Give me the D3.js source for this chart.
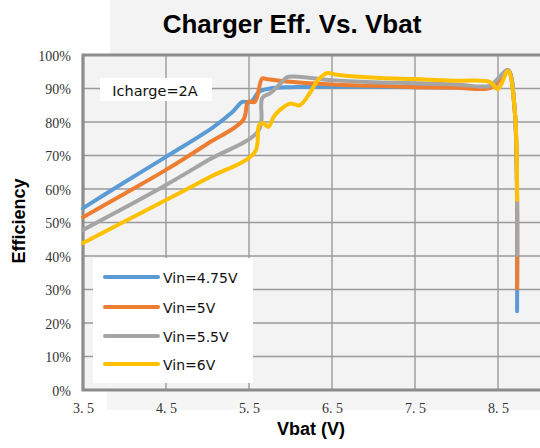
<!DOCTYPE html>
<html>
<head>
<meta charset="utf-8">
<script src="https://cdn.jsdelivr.net/npm/d3@7"></script>
<style>
html,body{margin:0;padding:0;background:#fff;}
svg{display:block;}
</style>
</head>
<body>
<svg id="chart" width="540" height="448"></svg>
<script>
// ---- Data ----
const seriesNames = ["Vin=4.75V", "Vin=5V", "Vin=5.5V", "Vin=6V"];
const seriesColors = ["#5B9BD5", "#ED7D31", "#A5A5A5", "#FFC000"];

const vbat475 = [3.5, 4.0, 4.5, 5.07, 5.3, 5.42, 5.52, 5.62, 5.75, 6.0, 6.5, 7.0, 7.5, 8.0, 8.4, 8.5, 8.62, 8.7, 8.73];
const eff475  = [54.3, 62.0, 69.6, 78.5, 83.0, 86.0, 86.0, 89.0, 90.0, 90.4, 90.5, 90.5, 90.4, 90.3, 90.3, 92.3, 95.5, 84.0, 23.5];

const vbat5 = [3.5, 4.0, 4.5, 5.0, 5.43, 5.49, 5.57, 5.66, 5.72, 6.0, 6.5, 7.0, 7.5, 8.0, 8.4, 8.5, 8.62, 8.7, 8.73];
const eff5  = [51.6, 58.6, 65.7, 73.5, 80.6, 86.0, 86.0, 93.0, 92.8, 92.0, 91.2, 90.8, 90.4, 90.2, 90.1, 92.0, 95.5, 84.0, 30.3];

const vbat55 = [3.5, 4.0, 4.5, 5.0, 5.62, 5.66, 5.76, 5.86, 5.96, 6.05, 6.5, 7.0, 7.5, 8.0, 8.4, 8.5, 8.62, 8.7, 8.73];
const eff55  = [47.8, 54.4, 61.2, 68.5, 77.6, 87.2, 88.7, 91.0, 93.4, 93.6, 92.5, 91.9, 91.6, 91.2, 90.8, 93.0, 95.5, 84.0, 40.3];

const vbat6 = [3.5, 4.0, 4.5, 5.0, 5.57, 5.62, 5.67, 5.73, 5.81, 5.93, 6.0, 6.11, 6.23, 6.33, 6.44, 6.56, 7.08, 7.5, 8.0, 8.4, 8.5, 8.62, 8.7, 8.73];
const eff6  = [43.9, 50.3, 56.7, 63.2, 71.0, 79.0, 79.7, 78.5, 82.0, 84.7, 85.5, 85.0, 88.5, 92.5, 94.6, 94.1, 93.1, 92.8, 92.3, 92.0, 89.8, 95.3, 84.0, 56.7];

const xTicks = [3.5, 4.5, 5.5, 6.5, 7.5, 8.5];
const xTickLabels = ["3. 5", "4. 5", "5. 5", "6. 5", "7. 5", "8. 5"];
const yTicks = [0, 10, 20, 30, 40, 50, 60, 70, 80, 90, 100];

const chartTitle = "Charger Eff. Vs. Vbat";
const xTitle = "Vbat (V)";
const yTitle = "Efficiency";
const noteText = "Icharge=2A";

const allX = [vbat475, vbat5, vbat55, vbat6];
const allY = [eff475, eff5, eff55, eff6];

// ---- Layout ----
const svg = d3.select("#chart");
const L = 83, T = 55, B = 390;
const x = d3.scaleLinear().domain([3.5, 9.0]).range([L, L + 83 * 5.5]);
const y = d3.scaleLinear().domain([0, 100]).range([B, T]);

// backgrounds
svg.append("rect").attr("x", 110).attr("y", 0).attr("width", 430).attr("height", T).attr("fill", "#f3f3f3");
svg.append("rect").attr("x", L).attr("y", T).attr("width", 540 - L).attr("height", B - T).attr("fill", "#f3f3f3");
svg.append("rect").attr("x", 107).attr("y", B).attr("width", 433).attr("height", 20).attr("fill", "#f5f5f5");

// gridlines
const grid = svg.append("g");
grid.selectAll("line.h").data(yTicks.filter(d => d > 0 && d < 100)).join("line")
  .attr("x1", L).attr("x2", 540).attr("y1", d => y(d)).attr("y2", d => y(d))
  .attr("stroke", "#9a9a9a").attr("stroke-width", 1.4);
grid.selectAll("line.v").data(xTicks.slice(1)).join("line")
  .attr("x1", d => x(d)).attr("x2", d => x(d)).attr("y1", T).attr("y2", B)
  .attr("stroke", "#9a9a9a").attr("stroke-width", 1.4);

// axis frame
svg.append("path")
  .attr("d", `M540,${T} L${L},${T} L${L},${B} L540,${B}`)
  .attr("fill", "none").attr("stroke", "#8c8c8c").attr("stroke-width", 3.2);

// axes labels via d3 axes
const xAxis = d3.axisBottom(x).tickValues(xTicks).tickSize(0).tickFormat((d, i) => xTickLabels[i]);
const gx = svg.append("g").attr("transform", `translate(0,${B})`).call(xAxis);
gx.select(".domain").remove();
gx.selectAll("text").attr("font-family", "Liberation Serif, DejaVu Serif, serif").attr("font-size", 14)
  .attr("fill", "#333").attr("dy", 0).attr("y", 23);

const yAxis = d3.axisLeft(y).tickValues(yTicks).tickSize(0).tickFormat(d => d + "%");
const gy = svg.append("g").attr("transform", `translate(${L - 12},0)`).call(yAxis);
gy.select(".domain").remove();
gy.selectAll("text").attr("font-family", "Liberation Serif, DejaVu Serif, serif").attr("font-size", 14)
  .attr("fill", "#333").attr("x", 0).attr("dy", "0.36em");

// note box
svg.append("rect").attr("x", 100).attr("y", 78).attr("width", 112).attr("height", 23).attr("fill", "#fff");
svg.append("text").attr("x", 155).attr("y", 96).attr("text-anchor", "middle")
  .attr("font-family", "DejaVu Sans, sans-serif").attr("font-size", 14.5).attr("fill", "#111").text(noteText);

// lines
const line = d3.line().x(d => x(d[0])).y(d => y(d[1])).curve(d3.curveCatmullRom.alpha(0.5));
const gLines = svg.append("g");
allX.forEach((xs, i) => {
  const pts = xs.map((v, j) => [v, allY[i][j]]);
  gLines.append("path").attr("d", line(pts)).attr("fill", "none")
    .attr("stroke", seriesColors[i]).attr("stroke-width", 4)
    .attr("stroke-linejoin", "round").attr("stroke-linecap", "round");
});

// legend
const lg = svg.append("g");
lg.append("rect").attr("x", 93).attr("y", 258).attr("width", 160).attr("height", 125).attr("fill", "#fff");
const legRows = [277, 307, 336, 364];
seriesNames.forEach((n, i) => {
  lg.append("line").attr("x1", 105).attr("x2", 158).attr("y1", legRows[i]).attr("y2", legRows[i])
    .attr("stroke", seriesColors[i]).attr("stroke-width", 4).attr("stroke-linecap", "round");
  lg.append("text").attr("x", 163).attr("y", legRows[i] + 5.5)
    .attr("font-family", "DejaVu Sans, sans-serif").attr("font-size", 14).attr("fill", "#111").text(n);
});

// titles
svg.append("text").attr("x", 292).attr("y", 33).attr("text-anchor", "middle")
  .attr("font-family", "Liberation Sans, Arial, sans-serif").attr("font-weight", "bold")
  .attr("font-size", 26).attr("fill", "#000").text(chartTitle);
svg.append("text").attr("x", 311).attr("y", 435).attr("text-anchor", "middle")
  .attr("font-family", "Liberation Sans, Arial, sans-serif").attr("font-weight", "bold")
  .attr("font-size", 18).attr("fill", "#000").text(xTitle);
svg.append("text").attr("transform", "translate(25,221) rotate(-90)").attr("text-anchor", "middle")
  .attr("font-family", "Liberation Sans, Arial, sans-serif").attr("font-weight", "bold")
  .attr("font-size", 18).attr("fill", "#000").text(yTitle);
</script>
</body>
</html>
